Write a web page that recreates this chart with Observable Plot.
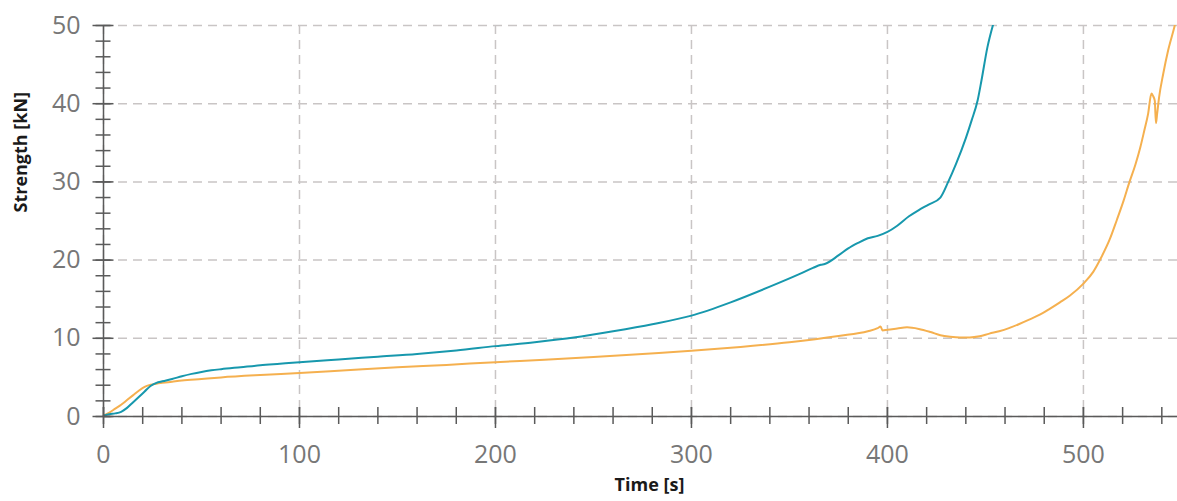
<!DOCTYPE html>
<html>
<head>
<meta charset="utf-8">
<script src="https://cdn.jsdelivr.net/npm/d3@7"></script>
<script src="https://cdn.jsdelivr.net/npm/@observablehq/plot@0.6"></script>
<style>
  html, body { margin: 0; padding: 0; background: #fff; }
</style>
</head>
<body>
<div id="chart"></div>
<script>
// Series A (teal)
const tealTime = [0,3,6,9,12,15,18,21,24,27,30,35,40,45,50,55,60,70,80,90,100,120,140,160,180,200,220,240,260,280,300,320,340,355,362,366,368,375,380,385,390,395,400,405,411,416,421,427,431,435,440,443,446,448,451,454];
const tealStrength = [0.1,0.3,0.4,0.6,1.1,1.8,2.5,3.2,3.9,4.3,4.5,4.8,5.15,5.45,5.7,5.9,6.05,6.3,6.55,6.75,6.95,7.3,7.65,8.0,8.45,9.0,9.5,10.1,10.9,11.8,12.9,14.6,16.6,18.2,19.0,19.4,19.5,20.6,21.5,22.2,22.8,23.1,23.6,24.4,25.6,26.4,27.1,28.0,30.0,32.3,35.6,37.9,40.4,43.0,47.2,50.2];

// Series B (orange)
const orangeTime = [0,3,6,9,12,15,18,21,24,27,30,35,40,50,60,80,100,126,150,175,200,225,250,275,300,325,350,375,390,395,396.5,397.5,400,405,410,416,422,427,432,437,442,447,452,457,462,467,472,478,483,488,493,500,505,509,513.5,517,520.5,523.5,526.5,529,531,533,534.7,535.5,536.4,537,537.6,538.6,540.7,543.2,546.6,548];
const orangeStrength = [0.1,0.5,1.0,1.5,2.1,2.7,3.3,3.8,4.05,4.2,4.3,4.45,4.6,4.8,5.0,5.3,5.55,5.95,6.3,6.6,6.95,7.25,7.6,8.0,8.4,8.9,9.5,10.3,10.9,11.3,11.5,11.0,11.1,11.25,11.4,11.2,10.8,10.4,10.2,10.1,10.1,10.25,10.6,10.9,11.3,11.8,12.35,13.05,13.8,14.6,15.45,17.0,18.5,20.3,22.7,25.1,27.6,30.0,32.2,34.4,36.5,38.7,41.3,41.0,40.4,37.5,38.7,40.8,43.8,46.8,50.0,51.5];

// Axis ticks
const xMajor = [0,100,200,300,400,500];
const xMinor = d3.range(0, 560, 20);
const yMajor = [0,10,20,30,40,50];
const yMinor = d3.range(0, 51, 2);

const xTitle = "Time [s]";
const yTitle = "Strength [kN]";

const teal = tealTime.map((t, i) => ({t, v: tealStrength[i]}));
const orange = orangeTime.map((t, i) => ({t, v: orangeStrength[i]}));

const axisColor = "#5a5a5a";
const gridStyle = {stroke: "#c9c5c5", strokeOpacity: 1, strokeWidth: 1.5, strokeDasharray: "9,6"};

const chart = Plot.plot({
  width: 1177,
  height: 501,
  marginLeft: 103,
  marginRight: 0,
  marginTop: 25,
  marginBottom: 85,
  x: {domain: [0, 548], label: null},
  y: {domain: [0, 50], label: null},
  style: {fontFamily: "'Open Sans', sans-serif", background: "#fff", overflow: "visible"},
  marks: [
    Plot.gridX(xMajor, gridStyle),
    Plot.gridY(yMajor, gridStyle),
    Plot.line(orange, {x: "t", y: "v", stroke: "#f5b04f", strokeWidth: 2, curve: "monotone-x", clip: true}),
    Plot.line(teal, {x: "t", y: "v", stroke: "#1798ad", strokeWidth: 2, curve: "monotone-x", clip: true}),
    Plot.ruleY([0], {stroke: axisColor, strokeWidth: 1.5}),
    Plot.ruleX([0], {y1: 0, y2: 50, stroke: axisColor, strokeWidth: 1.5}),
    Plot.axisY({ticks: yMinor, tickSize: 15, dx: 7.5, tickFormat: () => "", stroke: axisColor, strokeWidth: 1.5}),
    Plot.axisY({ticks: yMajor, tickSize: 21, dx: 10.5, tickFormat: () => "", stroke: axisColor, strokeWidth: 1.5}),
    Plot.axisY({ticks: yMajor, tickSize: 0, tickPadding: 23, fontSize: 25, color: "#777"}),
    Plot.axisX({ticks: xMinor, tickSize: 17, dy: -9, tickFormat: () => "", stroke: axisColor, strokeWidth: 1.5}),
    Plot.axisX({ticks: xMajor, tickSize: 21, dy: -9, tickFormat: () => "", stroke: axisColor, strokeWidth: 1.5}),
    Plot.axisX({ticks: xMajor, tickSize: 0, tickPadding: 29, fontSize: 25, color: "#777"}),
    Plot.text([xTitle], {frameAnchor: "bottom", dx: 9, dy: 69, lineAnchor: "middle", fontSize: 18, fontWeight: "bold", fill: "#1a1a1a"}),
    Plot.text([yTitle], {frameAnchor: "left", dx: -82, dy: -8.5, rotate: -90, lineAnchor: "middle", fontSize: 18, fontWeight: "bold", fill: "#1a1a1a"})
  ]
});
document.getElementById("chart").append(chart);
</script>
</body>
</html>
